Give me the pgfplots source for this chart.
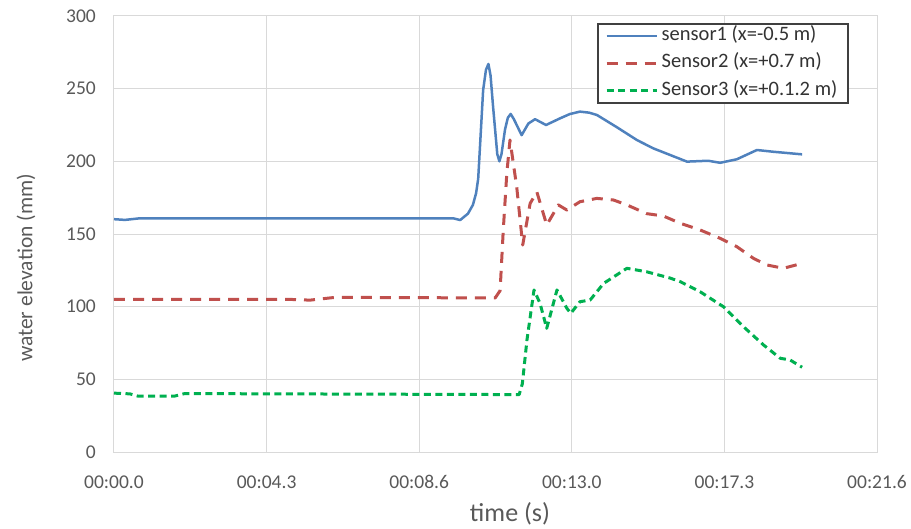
\documentclass[border=0pt]{standalone}
\usepackage{pgfplots}
\pgfplotsset{compat=1.18}
\usepackage{fontspec}
\setmainfont{Carlito}
\definecolor{s1}{HTML}{4F81BD}
\definecolor{s2}{HTML}{C0504D}
\definecolor{s3}{HTML}{00B050}
\definecolor{gridc}{HTML}{D9D9D9}
\definecolor{txt}{HTML}{595959}
\begin{document}
\begin{tikzpicture}
\begin{axis}[name=ax, scale only axis, width=763pt, height=436pt,
 xmin=0, xmax=21.6, ymin=0, ymax=300,
 xtick={0,4.32,8.64,12.96,17.28,21.6},
 xticklabels={00:00.0,00:04.3,00:08.6,00:13.0,00:17.3,00:21.6},
 ytick={0,50,...,300},
 grid=major, major grid style={gridc, line width=1pt},
 axis line style={gridc, line width=1pt},
 major tick length=0pt,
 tick label style={font=\fontsize{19.5}{20}\selectfont, text=txt},
 xticklabel style={anchor=center, yshift=-30pt},
 yticklabel style={anchor=east, inner sep=0pt, xshift=-18pt},
 /pgf/number format/assume math mode=true,
 xlabel={time (s)}, ylabel={water elevation (mm)},
 xlabel style={at={(rel axis cs:0.519,-0.142)}, anchor=center, font=\fontsize{26}{28}\selectfont, text=txt},
 ylabel style={at={(rel axis cs:-0.1153,0.422)}, anchor=center, font=\fontsize{21.5}{24}\selectfont, text=txt},
 legend style={at={(rel axis cs:0.963,0.984)}, anchor=north east, draw=black!75, line width=1.8pt,
   font=\fontsize{20.5}{22}\selectfont, text=black!80, inner xsep=7pt, inner ysep=0.5pt, row sep=4.5pt,
   nodes={inner xsep=3.5pt, inner ysep=2pt, text height=14pt, text depth=5pt}},
 legend cell align=left,
 legend image code/.code={\draw[#1] (0pt,0pt) -- (50pt,0pt);},
 no markers, every axis plot/.append style={line join=round},
]
\addplot[s1, line width=2.5pt] coordinates {
(0,160.2) (0.31,159.7) (0.73,160.8) (9.60,160.8) (9.80,159.6) (10.02,164) (10.16,170) (10.25,178) (10.31,188)
(10.45,249) (10.53,263) (10.60,267) (10.66,259) (10.73,238) (10.85,205) (10.91,200) (10.97,205) (11.07,222) (11.15,230) (11.23,232.6) (11.32,229) (11.54,218) (11.73,226) (11.92,229)
(12.23,225) (12.63,229.6) (12.90,232.5) (13.19,234.2) (13.45,233.5) (13.67,231.9) (14.24,223.4) (14.80,214.7) (15.26,209)
(15.74,204.4) (16.22,199.8) (16.82,200.4) (17.16,199) (17.63,201.4) (18.20,207.8) (18.66,206.6) (19.48,204.8)};
\addlegendentry{sensor1 (x=-0.5 m)}
\addplot[s2, line width=3pt, dash pattern=on 11pt off 8pt] coordinates {
(0,105) (4.98,105) (5.55,104.5) (6.26,106.4) (10.79,106) (10.93,111) (11.02,152.8) (11.12,191.7)
(11.21,214.7) (11.40,182.5) (11.57,142.4) (11.78,171) (11.97,179) (12.25,156.2) (12.58,170) (12.82,166.5)
(13.19,172.2) (13.67,174.5) (14.14,173.4) (14.52,170) (15.08,164) (15.55,162.4) (16.03,157.4) (16.59,152.8)
(17.16,147) (17.63,141.3) (18.10,133.3) (18.48,128.7) (18.95,126.4) (19.48,129.8)};
\addlegendentry{Sensor2 (x=+0.7 m)}
\addplot[s3, line width=3pt, dash pattern=on 7pt off 4.5pt] coordinates {
(0,40.5) (0.45,40) (0.67,38.5) (1.72,38.5) (2.0,40.2) (11.47,39.5) (11.56,47) (11.69,77) (11.89,111.5)
(12.06,102.3) (12.25,85.1) (12.54,111.5) (12.82,98.9) (12.93,95.4) (13.19,103.4) (13.48,104.6) (13.86,116)
(14.52,126.4) (15.08,124) (15.74,119.7) (16.03,117.2) (16.59,110.3) (17.25,100) (17.82,86.2) (18.39,73.6)
(18.86,64.5) (19.14,63.3) (19.48,58.3)};
\addlegendentry{Sensor3 (x=+0.1.2 m)}
\end{axis}
\path (ax.south west) ++(-114pt,-73pt) coordinate (bl);
\path (ax.north east) ++(34pt,16pt) coordinate (tr);
\path (bl) rectangle (tr);
\end{tikzpicture}
\end{document}
